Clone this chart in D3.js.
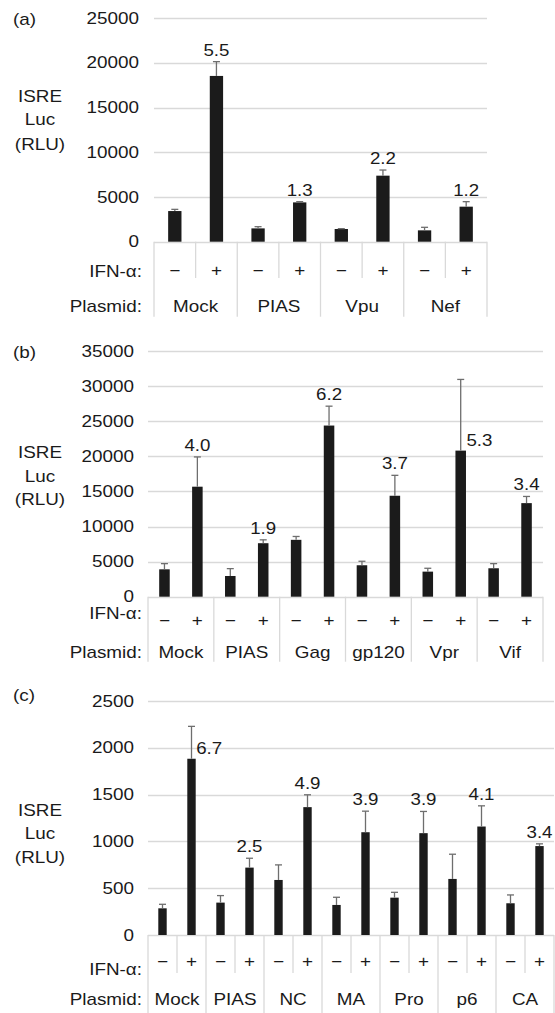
<!DOCTYPE html>
<html>
<head>
<meta charset="utf-8">
<script src="https://cdn.jsdelivr.net/npm/d3@7"></script>
<style>
  body { margin: 0; background: #fff; }
  svg { display: block; }
</style>
</head>
<body>
<svg id="canvas" width="555" height="1013"></svg>
<script>
'use strict';

// panel (a)
var aGroups = ['Mock', 'PIAS', 'Vpu', 'Nef'];
var aMinus = [3430, 1490, 1420, 1270];
var aMinusErr = [190, 190, 40, 340];
var aPlus = [18550, 4400, 7390, 3920];
var aPlusErr = [1600, 80, 630, 560];
var aFold = ['5.5', '1.3', '2.2', '1.2'];
var aTicks = [0, 5000, 10000, 15000, 20000, 25000];

// panel (b)
var bGroups = ['Mock', 'PIAS', 'Gag', 'gp120', 'Vpr', 'Vif'];
var bMinus = [3900, 2950, 8100, 4480, 3570, 4050];
var bMinusErr = [810, 1050, 480, 570, 480, 660];
var bPlus = [15670, 7620, 24380, 14380, 20810, 13330];
var bPlusErr = [4240, 480, 2760, 2910, 10140, 950];
var bFold = ['4.0', '1.9', '6.2', '3.7', '5.3', '3.4'];
var bTicks = [0, 5000, 10000, 15000, 20000, 25000, 30000, 35000];

// panel (c)
var cGroups = ['Mock', 'PIAS', 'NC', 'MA', 'Pro', 'p6', 'CA'];
var cMinus = [285, 346, 588, 321, 399, 599, 339];
var cMinusErr = [43, 75, 161, 82, 57, 264, 89];
var cPlus = [1883, 720, 1366, 1098, 1088, 1159, 950];
var cPlusErr = [346, 100, 132, 225, 232, 221, 24];
var cFold = ['6.7', '2.5', '4.9', '3.9', '3.9', '4.1', '3.4'];
var cTicks = [0, 500, 1000, 1500, 2000, 2500];

var ifnSigns = ['\u2212', '+'];

var FONT = '"Liberation Sans", Arial, Helvetica, sans-serif';
var BAR_COLOR = '#1b1b1b';
var ERR_COLOR = '#6e6e6e';
var GRID_COLOR = '#d9d9d9';
var TEXT_COLOR = '#1a1a1a';

// the source figure is stretched sideways, so the text is too
function AddText(g, x, y, str, size, anchor, sx) {
  return g.append('text')
      .attr('transform', 'translate(' + x + ',' + y + ') scale(' + sx + ',1)')
      .attr('text-anchor', anchor)
      .attr('font-family', FONT)
      .attr('font-size', size)
      .attr('fill', TEXT_COLOR)
      .text(str);
}

function BuildEntries(groups, minus, minusErr, plus, plusErr, fold) {
  var entries = [];
  groups.forEach(function(name, i) {
    entries.push({group: name, sign: 0, value: minus[i], err: minusErr[i], fold: ''});
    entries.push({group: name, sign: 1, value: plus[i], err: plusErr[i], fold: fold[i]});
  });
  return entries;
}

function RenderPanel(svg, p) {
  var entries = BuildEntries(p.groups, p.minus, p.minusErr, p.plus, p.plusErr, p.fold);
  var g = svg.append('g');

  var x = d3.scaleBand()
      .domain(d3.range(entries.length))
      .range([p.x0, p.x1])
      .padding(0);
  var barW = x.bandwidth() * p.barFrac;
  var y = d3.scaleLinear()
      .domain([0, d3.max(p.ticks)])
      .range([p.yZero, p.yTop]);

  // gridlines
  g.selectAll('line.grid')
      .data(p.ticks)
    .enter().append('line')
      .attr('x1', p.x0)
      .attr('x2', p.x1)
      .attr('y1', function(d) { return Math.round(y(d)) + 0.5; })
      .attr('y2', function(d) { return Math.round(y(d)) + 0.5; })
      .attr('stroke', GRID_COLOR)
      .attr('stroke-width', 1.3);

  // tick labels
  p.ticks.forEach(function(t) {
    AddText(g, p.tickX, y(t) + 5.5, String(t), 16, 'end', 1.18);
  });

  // table lines below the axis
  d3.range(entries.length + 1).forEach(function(i) {
    var xx = p.x0 + i * x.step();
    var isGroup = (i % 2 === 0);
    if (!isGroup && !p.innerBottom) return;
    g.append('line')
        .attr('x1', xx).attr('x2', xx)
        .attr('y1', p.yZero)
        .attr('y2', isGroup ? p.groupBottom : p.innerBottom)
        .attr('stroke', GRID_COLOR)
        .attr('stroke-width', 1.3);
  });

  // bars
  g.selectAll('rect.bar')
      .data(entries)
    .enter().append('rect')
      .attr('x', function(d, i) { return x(i) + (x.bandwidth() - barW) / 2; })
      .attr('y', function(d) { return y(d.value); })
      .attr('width', barW)
      .attr('height', function(d) { return y(0) - y(d.value); })
      .attr('fill', BAR_COLOR);

  // error bars (upper only)
  var err = g.selectAll('g.err')
      .data(entries)
    .enter().append('g')
      .attr('transform', function(d, i) {
        return 'translate(' + (x(i) + x.bandwidth() / 2) + ',0)';
      });
  err.append('line')
      .attr('x1', 0).attr('x2', 0)
      .attr('y1', function(d) { return y(d.value); })
      .attr('y2', function(d) { return y(d.value + d.err); })
      .attr('stroke', ERR_COLOR)
      .attr('stroke-width', 1.3);
  err.append('line')
      .attr('x1', -3.5).attr('x2', 3.5)
      .attr('y1', function(d) { return y(d.value + d.err); })
      .attr('y2', function(d) { return y(d.value + d.err); })
      .attr('stroke', ERR_COLOR)
      .attr('stroke-width', 1.3);

  // fold-change labels
  entries.forEach(function(d, i) {
    if (!d.fold) return;
    var cx = x(i) + x.bandwidth() / 2;
    if (p.rightLabels.indexOf(d.group) >= 0) {
      AddText(g, cx + barW / 2 + 0.5, y(d.value) - 5, d.fold, 17, 'start', 1.1);
    } else {
      AddText(g, cx, y(d.value + d.err) - 6, d.fold, 17, 'middle', 1.1);
    }
  });

  // table text
  entries.forEach(function(d, i) {
    AddText(g, x(i) + x.bandwidth() / 2, p.signY, ifnSigns[d.sign], 16, 'middle', 1.18);
  });
  p.groups.forEach(function(name, i) {
    AddText(g, p.x0 + (2 * i + 1) * x.step(), p.plasmidY, name, 16, 'middle', 1.18);
  });
  AddText(g, p.labelX, p.ifnY, 'IFN-\u03b1:', 16, 'end', 1.18);
  AddText(g, p.labelX, p.plasmidY, 'Plasmid:', 16, 'end', 1.18);

  // axis title and panel letter
  ['ISRE', 'Luc', '(RLU)'].forEach(function(s, i) {
    AddText(g, 40, p.titleY[i], s, 16, 'middle', 1.18);
  });
  AddText(g, 13, p.letterY, p.letter, 16, 'start', 1.18);
}

function Main() {
  var svg = d3.select('#canvas');
  RenderPanel(svg, {
    letter: '(a)', letterY: 25,
    groups: aGroups, minus: aMinus, minusErr: aMinusErr,
    plus: aPlus, plusErr: aPlusErr, fold: aFold, ticks: aTicks,
    x0: 154, x1: 487, yTop: 18.3, yZero: 241.7, barFrac: 0.32,
    tickX: 139, titleY: [101.7, 125, 150],
    labelX: 142, ifnY: 276.7, signY: 275.5, plasmidY: 311.7,
    innerBottom: 278, groupBottom: 316.7, rightLabels: []
  });
  RenderPanel(svg, {
    letter: '(b)', letterY: 358.3,
    groups: bGroups, minus: bMinus, minusErr: bMinusErr,
    plus: bPlus, plusErr: bPlusErr, fold: bFold, ticks: bTicks,
    x0: 148, x1: 543, yTop: 351, yZero: 596.7, barFrac: 0.32,
    tickX: 134, titleY: [458.3, 481.7, 505],
    labelX: 142, ifnY: 619.3, signY: 626, plasmidY: 658.3,
    innerBottom: null, groupBottom: 661.7, rightLabels: ['Vpr']
  });
  RenderPanel(svg, {
    letter: '(c)', letterY: 700.7,
    groups: cGroups, minus: cMinus, minusErr: cMinusErr,
    plus: cPlus, plusErr: cPlusErr, fold: cFold, ticks: cTicks,
    x0: 148, x1: 554, yTop: 701, yZero: 935, barFrac: 0.29,
    tickX: 134, titleY: [816, 839.3, 862.7],
    labelX: 142, ifnY: 975, signY: 966.7, plasmidY: 1005,
    innerBottom: 973, groupBottom: 1013, rightLabels: ['Mock']
  });
}

Main();
</script>
</body>
</html>
